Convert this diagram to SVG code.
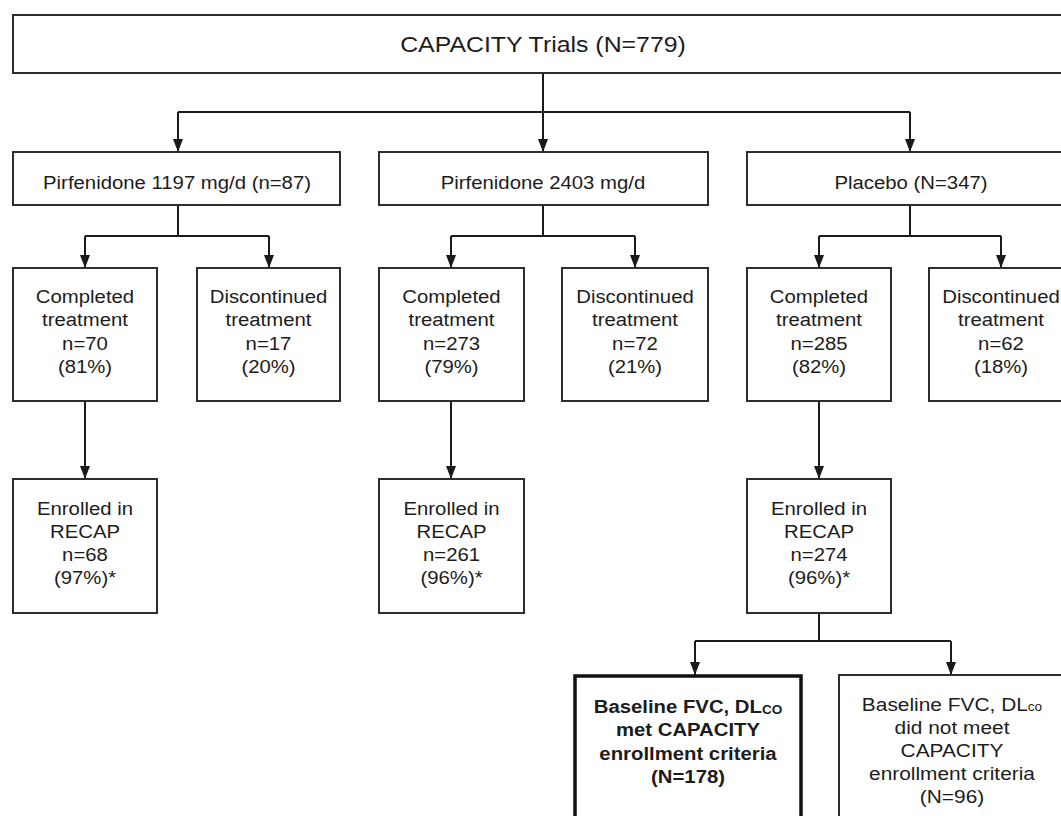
<svg xmlns="http://www.w3.org/2000/svg" width="1061" height="816" viewBox="0 0 1061 816">
  <style>
    .box { fill: #ffffff; stroke: #2e2e2e; stroke-width: 2; }
    .bold-box { fill: #ffffff; stroke: #111111; stroke-width: 3.5; }
    .link { fill: none; stroke: #1a1a1a; stroke-width: 2; }
    .t { font-family: "Liberation Sans", Arial, sans-serif; font-size: 18px; fill: #1c1c1c; text-anchor: middle; }
    .title { font-size: 22px; }
    .b { font-weight: bold; }
    .sub { font-size: 12px; }
  </style>
  <defs>
    <marker id="tip" markerUnits="userSpaceOnUse" markerWidth="13" markerHeight="10" refX="13" refY="5" orient="auto" viewBox="0 0 13 10">
      <path d="M0 0 L13 5 L0 10 Z" fill="#1a1a1a"/>
    </marker>
  </defs>

  <!-- connectors -->
  <g id="connectors" class="link">
    <!-- trials to arms -->
    <path d="M178 112 H910"/>
    <path d="M543 73 V152" marker-end="url(#tip)"/>
    <path d="M178 112 V152" marker-end="url(#tip)"/>
    <path d="M910 112 V152" marker-end="url(#tip)"/>
    <!-- arms to outcomes -->
    <path d="M178 205 V236 M85 236 H269"/>
    <path d="M85 236 V268" marker-end="url(#tip)"/>
    <path d="M269 236 V268" marker-end="url(#tip)"/>
    <path d="M543 205 V236 M451 236 H635"/>
    <path d="M451 236 V268" marker-end="url(#tip)"/>
    <path d="M635 236 V268" marker-end="url(#tip)"/>
    <path d="M910 205 V236 M819 236 H1001"/>
    <path d="M819 236 V268" marker-end="url(#tip)"/>
    <path d="M1001 236 V268" marker-end="url(#tip)"/>
    <!-- completed to RECAP -->
    <path d="M85 401 V479" marker-end="url(#tip)"/>
    <path d="M451 401 V479" marker-end="url(#tip)"/>
    <path d="M819 401 V479" marker-end="url(#tip)"/>
    <!-- placebo RECAP split -->
    <path d="M819 613 V641 M695 641 H951"/>
    <path d="M695 641 V675" marker-end="url(#tip)"/>
    <path d="M951 641 V675" marker-end="url(#tip)"/>
  </g>

  <!-- top -->
  <g id="trials">
    <rect class="box" x="13" y="15" width="1062" height="58"/>
    <text class="t title" transform="translate(543 52) scale(1.13 1)">CAPACITY Trials (N=779)</text>
  </g>

  <!-- arms -->
  <g id="arm-1197">
    <rect class="box" x="13" y="152" width="327" height="53"/>
    <text class="t" transform="translate(177 189) scale(1.13 1)">Pirfenidone 1197 mg/d (n=87)</text>
  </g>
  <g id="arm-2403">
    <rect class="box" x="379" y="152" width="329" height="53"/>
    <text class="t" transform="translate(543 189) scale(1.13 1)">Pirfenidone 2403 mg/d</text>
  </g>
  <g id="arm-placebo">
    <rect class="box" x="747" y="152" width="330" height="53"/>
    <text class="t" transform="translate(911 189) scale(1.13 1)">Placebo (N=347)</text>
  </g>

  <!-- treatment outcomes -->
  <g id="completed-1197">
    <rect class="box" x="13" y="268" width="144" height="133"/>
    <text class="t" transform="translate(85 303) scale(1.13 1)"><tspan x="0" y="0">Completed</tspan><tspan x="0" y="23.3">treatment</tspan><tspan x="0" y="46.6">n=70</tspan><tspan x="0" y="70">(81%)</tspan></text>
  </g>
  <g id="discontinued-1197">
    <rect class="box" x="197" y="268" width="143" height="133"/>
    <text class="t" transform="translate(268.5 303) scale(1.13 1)"><tspan x="0" y="0">Discontinued</tspan><tspan x="0" y="23.3">treatment</tspan><tspan x="0" y="46.6">n=17</tspan><tspan x="0" y="70">(20%)</tspan></text>
  </g>
  <g id="completed-2403">
    <rect class="box" x="379" y="268" width="145" height="133"/>
    <text class="t" transform="translate(451.5 303) scale(1.13 1)"><tspan x="0" y="0">Completed</tspan><tspan x="0" y="23.3">treatment</tspan><tspan x="0" y="46.6">n=273</tspan><tspan x="0" y="70">(79%)</tspan></text>
  </g>
  <g id="discontinued-2403">
    <rect class="box" x="562" y="268" width="146" height="133"/>
    <text class="t" transform="translate(635 303) scale(1.13 1)"><tspan x="0" y="0">Discontinued</tspan><tspan x="0" y="23.3">treatment</tspan><tspan x="0" y="46.6">n=72</tspan><tspan x="0" y="70">(21%)</tspan></text>
  </g>
  <g id="completed-placebo">
    <rect class="box" x="747" y="268" width="144" height="133"/>
    <text class="t" transform="translate(819 303) scale(1.13 1)"><tspan x="0" y="0">Completed</tspan><tspan x="0" y="23.3">treatment</tspan><tspan x="0" y="46.6">n=285</tspan><tspan x="0" y="70">(82%)</tspan></text>
  </g>
  <g id="discontinued-placebo">
    <rect class="box" x="929" y="268" width="144" height="133"/>
    <text class="t" transform="translate(1001 303) scale(1.13 1)"><tspan x="0" y="0">Discontinued</tspan><tspan x="0" y="23.3">treatment</tspan><tspan x="0" y="46.6">n=62</tspan><tspan x="0" y="70">(18%)</tspan></text>
  </g>

  <!-- RECAP enrolment -->
  <g id="recap-1197">
    <rect class="box" x="13" y="479" width="144" height="134"/>
    <text class="t" transform="translate(85 514.5) scale(1.13 1)"><tspan x="0" y="0">Enrolled in</tspan><tspan x="0" y="23.3">RECAP</tspan><tspan x="0" y="46.6">n=68</tspan><tspan x="0" y="70">(97%)*</tspan></text>
  </g>
  <g id="recap-2403">
    <rect class="box" x="379" y="479" width="145" height="134"/>
    <text class="t" transform="translate(451.5 514.5) scale(1.13 1)"><tspan x="0" y="0">Enrolled in</tspan><tspan x="0" y="23.3">RECAP</tspan><tspan x="0" y="46.6">n=261</tspan><tspan x="0" y="70">(96%)*</tspan></text>
  </g>
  <g id="recap-placebo">
    <rect class="box" x="747" y="479" width="144" height="134"/>
    <text class="t" transform="translate(819 514.5) scale(1.13 1)"><tspan x="0" y="0">Enrolled in</tspan><tspan x="0" y="23.3">RECAP</tspan><tspan x="0" y="46.6">n=274</tspan><tspan x="0" y="70">(96%)*</tspan></text>
  </g>

  <!-- baseline criteria split -->
  <g id="met-criteria">
    <rect class="bold-box" x="575" y="676" width="226" height="160"/>
    <text class="t b" transform="translate(688 713) scale(1.13 1)"><tspan x="0" y="0">Baseline FVC, DL<tspan class="sub" dy="1">CO</tspan></tspan><tspan x="0" y="23.3">met CAPACITY</tspan><tspan x="0" y="46.6">enrollment criteria</tspan><tspan x="0" y="70">(N=178)</tspan></text>
  </g>
  <g id="not-met-criteria">
    <rect class="box" x="839" y="675" width="240" height="160"/>
    <text class="t" transform="translate(952 711) scale(1.13 1)" style="font-size:18.5px"><tspan x="0" y="0">Baseline FVC, DL<tspan class="sub">co</tspan></tspan><tspan x="0" y="23">did not meet</tspan><tspan x="0" y="46">CAPACITY</tspan><tspan x="0" y="69.5">enrollment criteria</tspan><tspan x="0" y="92">(N=96)</tspan></text>
  </g>
</svg>
